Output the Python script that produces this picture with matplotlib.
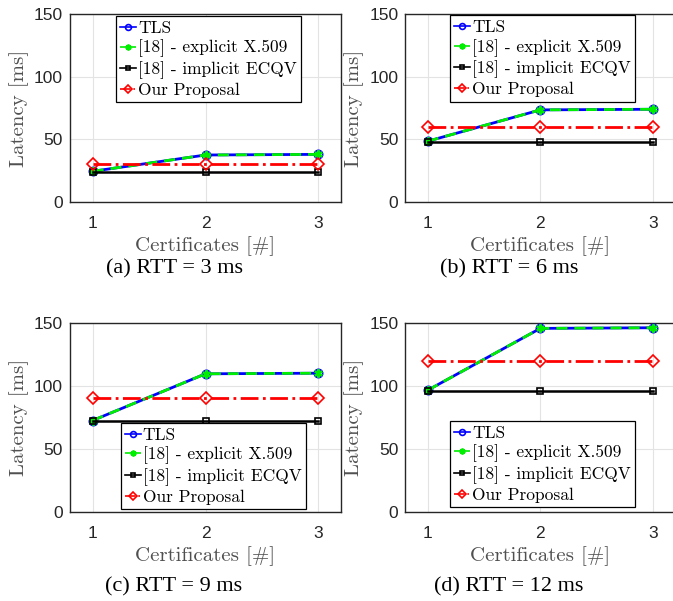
import matplotlib
matplotlib.use("Agg")
import matplotlib.pyplot as plt

# Number of certificates in the chain
certificates = [1, 2, 3]

# Round-trip times of the four scenarios [ms]
rtt_values = [3, 6, 9, 12]
panel_letters = ["a", "b", "c", "d"]

# Handshake latency [ms] per scenario
tls = [
    [24.5, 37.5, 38.0],
    [48.5, 73.5, 74.0],
    [72.5, 109.5, 110.0],
    [96.5, 145.5, 146.0],
]
explicit_x509 = [
    [24.5, 37.5, 38.0],
    [48.5, 73.5, 74.0],
    [72.5, 109.5, 110.0],
    [96.5, 145.5, 146.0],
]
implicit_ecqv = [
    [24, 24, 24],
    [48, 48, 48],
    [72, 72, 72],
    [96, 96, 96],
]
our_proposal = [
    [30, 30, 30],
    [60, 60, 60],
    [90, 90, 90],
    [120, 120, 120],
]

series_labels = ["TLS", "[18] - explicit X.509", "[18] - implicit ECQV", "Our Proposal"]
y_ticks = [0, 50, 100, 150]

W, H = 673, 601
fig = plt.figure(figsize=(W / 100, H / 100), dpi=100)

CM = "cmr10"
TIMES = "Liberation Serif"
SANS = "Liberation Sans"
TXT = "#262626"

# Axes boxes in pixels: left, top, right, bottom
boxes = [
    (70, 14, 341, 202),
    (405.2, 14, 675.5, 202),
    (70, 322.7, 341, 512),
    (405.2, 322.7, 675.5, 512),
]
caption_pos = [(174, 269), (509.5, 269), (174, 587), (509, 587)]
ylabel_right = [29, 364, 29, 364]
legend_anchor = [
    (0.169, 0.988),
    (0.166, 0.993),
    (0.187, 0.47),
    (0.166, 0.48),
]

asterisk = (6, 2, 0)

for i in range(4):
    l, t, r, b = boxes[i]
    ax = fig.add_axes([l / W, 1 - b / H, (r - l) / W, (b - t) / H])
    ax.plot(certificates, tls[i], color="blue", lw=2, marker="o", ms=6,
            mfc="none", mec="blue", mew=1.2, label=series_labels[0], zorder=3)
    ax.plot(certificates, explicit_x509[i], color="#00ee00", lw=2,
            linestyle=(0, (4, 2.5)), marker=asterisk, ms=6, mec="#00ee00",
            mew=1.6, label=series_labels[1], zorder=4)
    ax.plot(certificates, implicit_ecqv[i], color="black", lw=1.8, marker="s",
            ms=5, mfc="none", mec="black", mew=1.2, label=series_labels[2], zorder=5)
    ax.plot(certificates, our_proposal[i], color="red", lw=2, linestyle="-.",
            marker="D", ms=6, mfc="none", mec="red", mew=1.2,
            label=series_labels[3], zorder=6)

    ax.set_xlim(0.8, 3.2)
    ax.set_ylim(0, 150)
    ax.set_xticks(certificates)
    ax.set_yticks(y_ticks)
    ax.grid(True, color="#e3e3e3", lw=0.8)
    ax.set_axisbelow(True)
    ax.tick_params(direction="in", length=0, labelsize=12.5, colors=TXT)
    ax.tick_params(axis="x", pad=10)
    ax.tick_params(axis="y", pad=5)
    for lab in ax.get_xticklabels() + ax.get_yticklabels():
        lab.set_fontfamily(SANS)
    for sp in ax.spines.values():
        sp.set_color(TXT)
        sp.set_linewidth(1.0)

    ax.set_xlabel("Certificates [#]", fontfamily=CM, fontsize=15,
                  color="#505050", labelpad=4)
    ax.set_ylabel("Latency [ms]", fontfamily=CM, fontsize=15,
                  color="#505050")
    ax.yaxis.set_label_coords((ylabel_right[i] - l) / (r - l), 0.5)

    leg = ax.legend(loc="upper left", bbox_to_anchor=legend_anchor[i],
                    borderaxespad=0, frameon=True, fancybox=False,
                    edgecolor="black", framealpha=1,
                    prop={"family": CM, "size": 12.5},
                    handlelength=0.9, handletextpad=0.12, borderpad=0.25,
                    labelspacing=0.22, markerscale=0.7)
    leg.get_frame().set_linewidth(0.9)
    for hl in leg.get_lines():
        hl.set_linewidth(1.2)

    cx, cy = caption_pos[i]
    fig.text(cx / W, 1 - cy / H,
             f"({panel_letters[i]}) RTT = {rtt_values[i]} ms",
             ha="center", va="center", fontfamily=TIMES, fontsize=16,
             color="black")

fig.savefig("out.png", dpi=100)
